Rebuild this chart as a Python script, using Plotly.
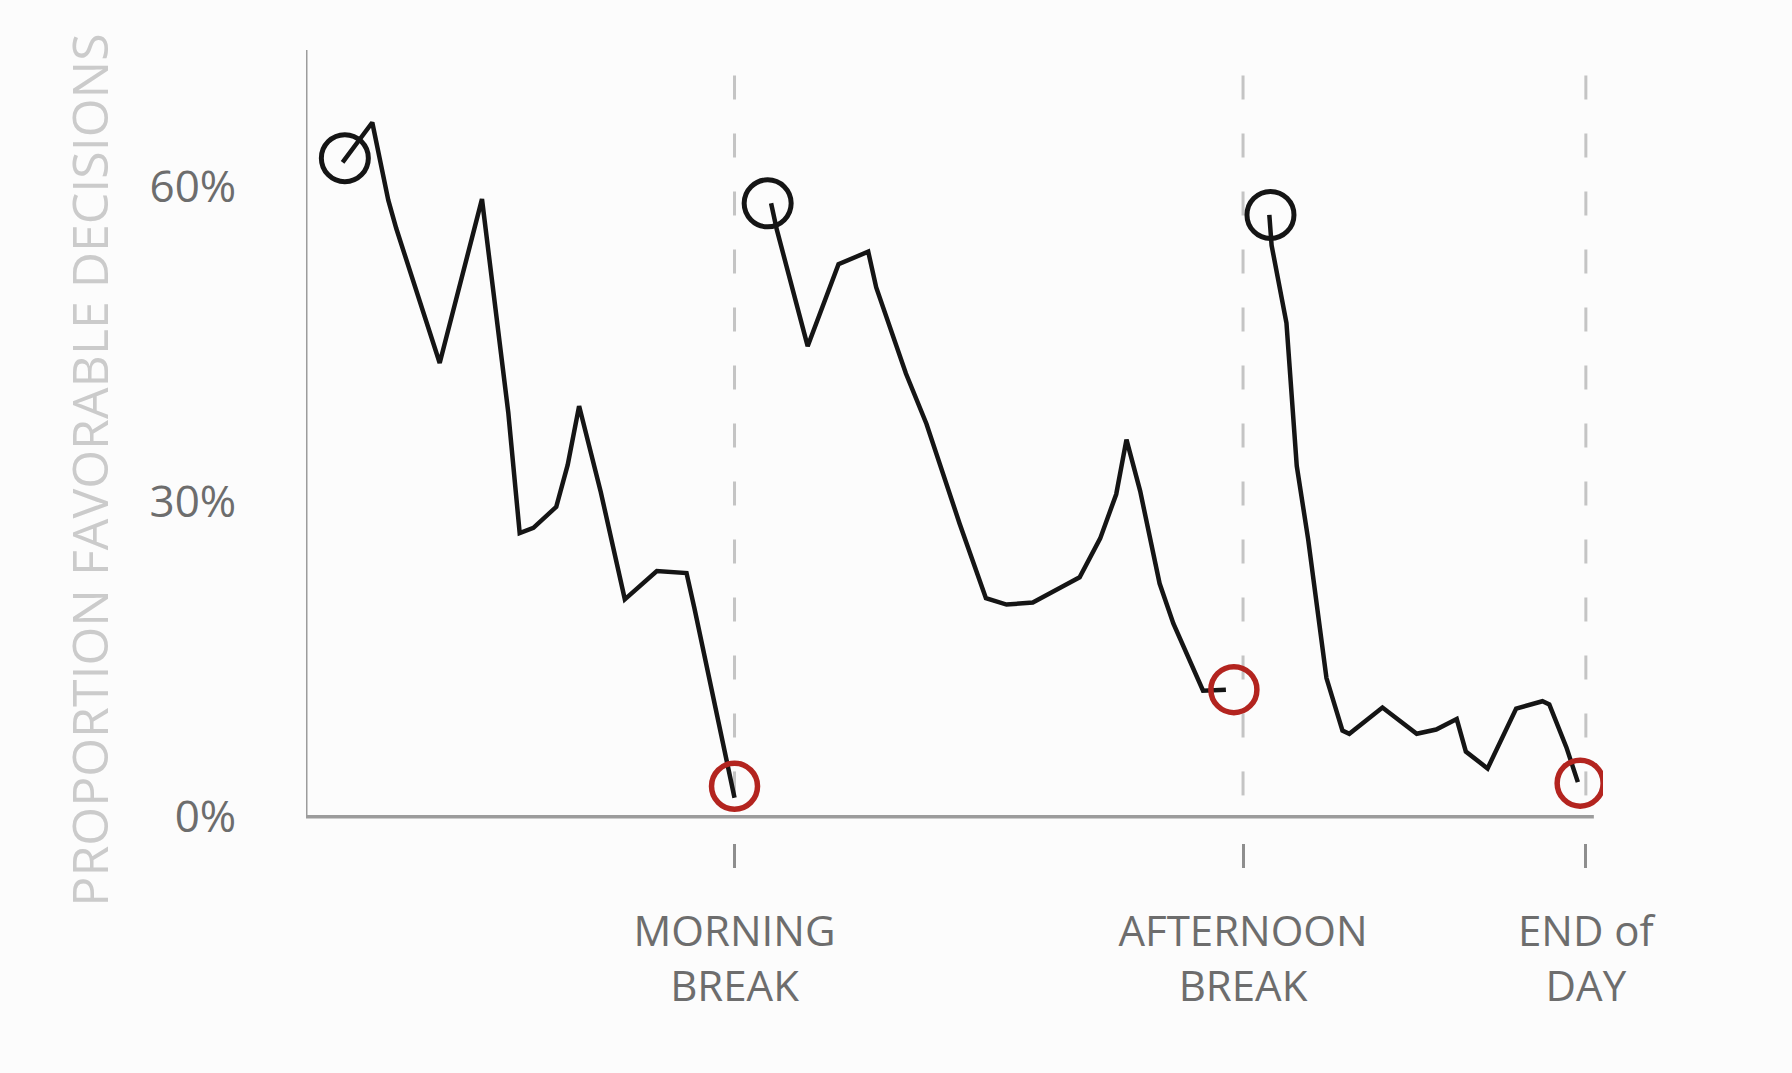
import plotly.graph_objects as go

# ---- data (x = time through the day, y = % favorable) ----
seg1_x = [3.2, 5.8, 7.2, 7.9, 11.7, 15.4, 17.7, 18.7, 19.9, 21.9, 22.9, 23.9, 25.8, 27.9, 30.7, 33.3, 34.0, 37.5]
seg1_y = [62.3, 66.1, 58.7, 56.0, 43.2, 58.8, 38.5, 27.0, 27.5, 29.5, 33.5, 39.1, 30.9, 20.7, 23.4, 23.2, 19.8, 1.8]

seg2_x = [40.7, 41.2, 43.9, 46.6, 49.2, 49.9, 52.5, 54.3, 57.2, 59.5, 61.3, 63.6, 66.0, 67.7, 69.5, 70.9, 71.8, 73.0, 74.7, 75.9, 78.5, 80.5]
seg2_y = [58.4, 55.9, 44.8, 52.6, 53.8, 50.4, 42.2, 37.4, 27.9, 20.8, 20.2, 20.4, 21.8, 22.8, 26.5, 30.7, 35.9, 31.0, 22.2, 18.4, 12.0, 12.1]

seg3_x = [84.3, 84.5, 85.8, 86.7, 87.7, 89.3, 90.7, 91.3, 94.2, 97.2, 98.9, 100.7, 101.5, 103.4, 105.9, 108.2, 108.8, 110.3, 111.3]
seg3_y = [57.3, 54.4, 47.0, 33.4, 26.4, 13.2, 8.2, 7.9, 10.4, 7.9, 8.3, 9.3, 6.2, 4.6, 10.3, 11.0, 10.7, 6.6, 3.3]

start_x = [3.4, 40.4, 84.4]
start_y = [62.7, 58.4, 57.3]
end_x = [37.5, 81.2, 111.5]
end_y = [2.9, 12.1, 3.2]

break_x = [37.5, 82.0, 112.0]
break_labels = ["MORNING<br>BREAK", "AFTERNOON<br>BREAK", "END of<br>DAY"]

y_ticks = [0, 30, 60]
y_tick_labels = ["0%", "30%", "60%"]
y_title = "PROPORTION FAVORABLE DECISIONS"

FONT = "Open Sans, Noto Sans, sans-serif"
INK = "#151515"
RED = "#b3241f"
AXIS_GRAY = "#9c9c9c"
DASH_GRAY = "#c4c4c4"
BG = "#fcfcfc"

fig = go.Figure()

for sx, sy in [(seg1_x, seg1_y), (seg2_x, seg2_y), (seg3_x, seg3_y)]:
    fig.add_trace(go.Scatter(x=sx, y=sy, mode="lines",
                             line=dict(color=INK, width=4.5),
                             hoverinfo="skip", showlegend=False))

fig.add_trace(go.Scatter(x=start_x, y=start_y, mode="markers",
                         marker=dict(symbol="circle-open", size=47, color=INK,
                                     line=dict(width=5, color=INK)),
                         showlegend=False))
fig.add_trace(go.Scatter(x=end_x, y=end_y, mode="markers",
                         marker=dict(symbol="circle-open", size=46, color=RED,
                                     line=dict(width=5.5, color=RED)),
                         showlegend=False))

# hand-drawn style axis lines
fig.add_shape(type="line", xref="x", yref="y", x0=0, x1=0, y0=0, y1=73,
              line=dict(color=AXIS_GRAY, width=3))
fig.add_shape(type="line", xref="x", yref="y", x0=0, x1=112.7, y0=0, y1=0,
              line=dict(color=AXIS_GRAY, width=3.5))

# dashed break lines
for bx in break_x:
    fig.add_shape(type="line", xref="x", yref="paper", x0=bx, x1=bx, y0=0.06, y1=0.99,
                  line=dict(color=DASH_GRAY, width=3, dash="24px,34px"), layer="below")

fig.add_annotation(text=y_title, xref="paper", yref="paper", x=-0.167, y=0.47,
                   xanchor="center", yanchor="middle", textangle=-90, showarrow=False,
                   font=dict(family=FONT, size=50, color="#cbcbcb"))

fig.update_layout(
    width=1792, height=1073,
    margin=dict(l=306, r=189, t=50, b=229.5),
    paper_bgcolor=BG, plot_bgcolor=BG,
    showlegend=False,
    xaxis=dict(range=[0, 113.5], showgrid=False, zeroline=False, showline=False,
               tickmode="array", tickvals=break_x, ticktext=break_labels,
               ticks="outside", ticklen=24, tickwidth=3, tickcolor="#8e8e8e",
               ticklabelstandoff=28,
               tickfont=dict(family=FONT, size=42, color="#6d6d6d")),
    yaxis=dict(range=[-2.5, 73], showgrid=False, zeroline=False, showline=False,
               tickmode="array", tickvals=y_ticks, ticktext=y_tick_labels,
               ticks="outside", ticklen=60, tickcolor="rgba(0,0,0,0)",
               tickfont=dict(family=FONT, size=44, color="#6d6d6d")),
)

fig.write_html("out.html", config={"displayModeBar": False},
               post_script="document.body.style.margin='0';document.body.style.background='%s';" % BG)
